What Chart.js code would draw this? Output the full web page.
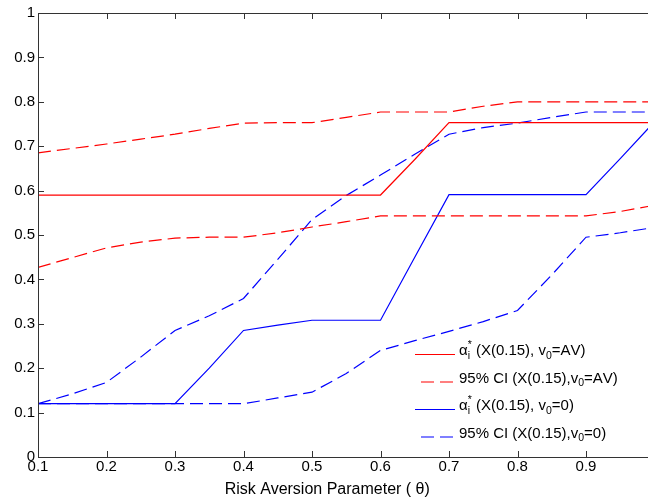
<!DOCTYPE html>
<html><head><meta charset="utf-8">
<script src="https://cdn.jsdelivr.net/npm/chart.js@4/dist/chart.umd.min.js"></script>
<style>
html,body{margin:0;padding:0;overflow:hidden;background:#fff;width:648px;height:504px}
canvas{display:block}
</style>
</head><body>
<canvas id="c" width="660" height="504" style="width:660px;height:504px"></canvas>
<script>
// ---- data ----
const theta = [0.1,0.15,0.2,0.25,0.3,0.35,0.4,0.45,0.5,0.55,0.6,0.65,0.7,0.75,0.8,0.85,0.9,0.95,1.0];
const alphaAV   = [0.59,0.59,0.59,0.59,0.59,0.59,0.59,0.59,0.59,0.59,0.59,0.67,0.753,0.753,0.753,0.753,0.753,0.753,0.753];
const ciAVUpper = [0.685,0.695,0.705,0.716,0.727,0.74,0.752,0.753,0.753,0.765,0.777,0.777,0.777,0.79,0.80,0.80,0.80,0.80,0.80];
const ciAVLower = [0.427,0.449,0.471,0.484,0.493,0.495,0.495,0.505,0.518,0.53,0.543,0.543,0.543,0.543,0.543,0.543,0.543,0.553,0.567];
const alpha0    = [0.12,0.12,0.12,0.12,0.12,0.2,0.285,0.297,0.308,0.308,0.308,0.45,0.591,0.591,0.591,0.591,0.591,0.672,0.755];
const ci0Upper  = [0.12,0.142,0.168,0.225,0.285,0.318,0.357,0.445,0.535,0.589,0.635,0.682,0.727,0.742,0.752,0.765,0.777,0.777,0.777];
const ci0Lower  = [0.12,0.12,0.12,0.12,0.12,0.12,0.12,0.133,0.146,0.188,0.24,0.262,0.283,0.305,0.33,0.41,0.495,0.505,0.517];
const seriesLabels = [
  'α_i^* (X(0.15), v_0=AV)',
  '95% CI (X(0.15),v_0=AV)',
  'α_i^* (X(0.15), v_0=0)',
  '95% CI (X(0.15),v_0=0)'
];
const xLabel = 'Risk Aversion Parameter ( θ)';

const FONT = '"Liberation Sans", Arial, Helvetica, sans-serif';
const RED = '#ff0000', BLUE = '#0000ff';
const DASH = [13, 6];

function pts(ys){ return theta.map((t,i)=>({x:t, y:ys[i]})); }
function ds(label, ys, color, dashed, inLegend){
  return {label, data: pts(ys), borderColor: color, backgroundColor: color,
    borderWidth: 1.2, borderDash: dashed ? DASH : [],
    pointRadius: 0, tension: 0, fill: false, inLegend};
}

const datasets = [
  ds(seriesLabels[0], alphaAV, RED, false, true),
  ds(seriesLabels[1], ciAVUpper, RED, true, true),
  ds(seriesLabels[1], ciAVLower, RED, true, false),
  ds(seriesLabels[2], alpha0, BLUE, false, true),
  ds(seriesLabels[3], ci0Upper, BLUE, true, true),
  ds(seriesLabels[3], ci0Lower, BLUE, true, false)
];

function fmt(v){ return String(Number(Number(v).toFixed(2))); }

// draw text with _x subscripts and ^x superscripts
function drawRich(ctx, str, x, y, size){
  let cx = x;
  let lastSub = null;
  for (let i=0;i<str.length;i++){
    const ch = str[i];
    if (ch==='_' || ch==='^'){
      const c2 = str[++i];
      ctx.font = (size*0.7)+'px '+FONT;
      const w = ctx.measureText(c2).width;
      let px = cx;
      if (ch==='^' && lastSub!==null && lastSub.end===cx){ px = lastSub.start; }
      ctx.fillText(c2, px, y + (ch==='_' ? size*0.32 : -size*0.38));
      if (ch==='_'){ lastSub = {start: cx, end: cx+w}; cx += w; }
      else { cx = Math.max(cx, px+w); lastSub = null; }
      ctx.font = size+'px '+FONT;
    } else {
      ctx.font = size+'px '+FONT;
      ctx.fillText(ch, cx, y);
      cx += ctx.measureText(ch).width;
      lastSub = null;
    }
  }
}

const framePlugin = {
  id: 'frame',
  afterDatasetsDraw(chart){
    const {ctx, chartArea: a, scales} = chart;
    ctx.save();
    ctx.strokeStyle = '#333';
    ctx.lineWidth = 1;
    ctx.beginPath();
    ctx.rect(Math.round(a.left)+0.5, Math.round(a.top)+0.5, Math.round(a.right-a.left), Math.round(a.bottom-a.top));
    const L = 6;
    scales.x.ticks.forEach(t=>{
      const px = Math.round(scales.x.getPixelForValue(t.value))+0.5;
      ctx.moveTo(px, a.bottom); ctx.lineTo(px, a.bottom-L);
      ctx.moveTo(px, a.top); ctx.lineTo(px, a.top+L);
    });
    scales.y.ticks.forEach(t=>{
      const py = Math.round(scales.y.getPixelForValue(t.value))+0.5;
      ctx.moveTo(a.left, py); ctx.lineTo(a.left+L, py);
      ctx.moveTo(a.right, py); ctx.lineTo(a.right-L, py);
    });
    ctx.stroke();
    ctx.restore();
  }
};

const legendPlugin = {
  id: 'richLegend',
  afterDraw(chart){
    const ctx = chart.ctx;
    const items = chart.data.datasets.filter(d=>d.inLegend);
    const x0 = 415, x1 = 455, tx = 459, y0 = 354, dy = 27.5, size = 15;
    ctx.save();
    items.forEach((d,i)=>{
      const y = y0 + i*dy;
      ctx.strokeStyle = d.borderColor;
      ctx.lineWidth = 1.2;
      ctx.setLineDash(d.borderDash.length ? DASH : []);
      ctx.beginPath();
      if (d.borderDash.length){ ctx.moveTo(x0+6, y+0.5); ctx.lineTo(x1-1, y+0.5); }
      else { ctx.moveTo(x0, y+0.5); ctx.lineTo(x1, y+0.5); }
      ctx.stroke();
      ctx.setLineDash([]);
      ctx.fillStyle = '#000';
      ctx.textBaseline = 'middle';
      ctx.textAlign = 'left';
      drawRich(ctx, d.label, tx, y-3, size);
    });
    ctx.restore();
  }
};

new Chart(document.getElementById('c'), {
  type: 'line',
  data: { datasets },
  options: {
    responsive: false,
    animation: false,
    devicePixelRatio: 1,
    layout: { padding: { left: 0, top: 13, right: 5.5, bottom: 0 } },
    plugins: {
      legend: { display: false },
      tooltip: { enabled: false },
      title: {
        display: true, position: 'bottom', text: xLabel, color: '#000',
        font: { family: FONT, size: 16, weight: 'normal', lineHeight: 1.2 },
        padding: { top: 0, bottom: 5 }
      }
    },
    scales: {
      x: {
        type: 'linear', min: 0.1, max: 1.0,
        ticks: { stepSize: 0.1, color: '#000', font: { family: FONT, size: 15 }, padding: 1, maxRotation: 0, autoSkip: false,
          callback: v => fmt(v) },
        grid: { display: true, drawOnChartArea: false, drawTicks: false },
        border: { display: false },
        afterFit(s){ s.height = 22.8; }
      },
      y: {
        min: 0, max: 1,
        ticks: { stepSize: 0.1, color: '#000', font: { family: FONT, size: 15 }, padding: 3,
          callback: v => fmt(v) },
        grid: { display: true, drawOnChartArea: false, drawTicks: false },
        border: { display: false },
        afterFit(s){ s.width = 38; }
      }
    }
  },
  plugins: [framePlugin, legendPlugin]
});
</script>
</body></html>
